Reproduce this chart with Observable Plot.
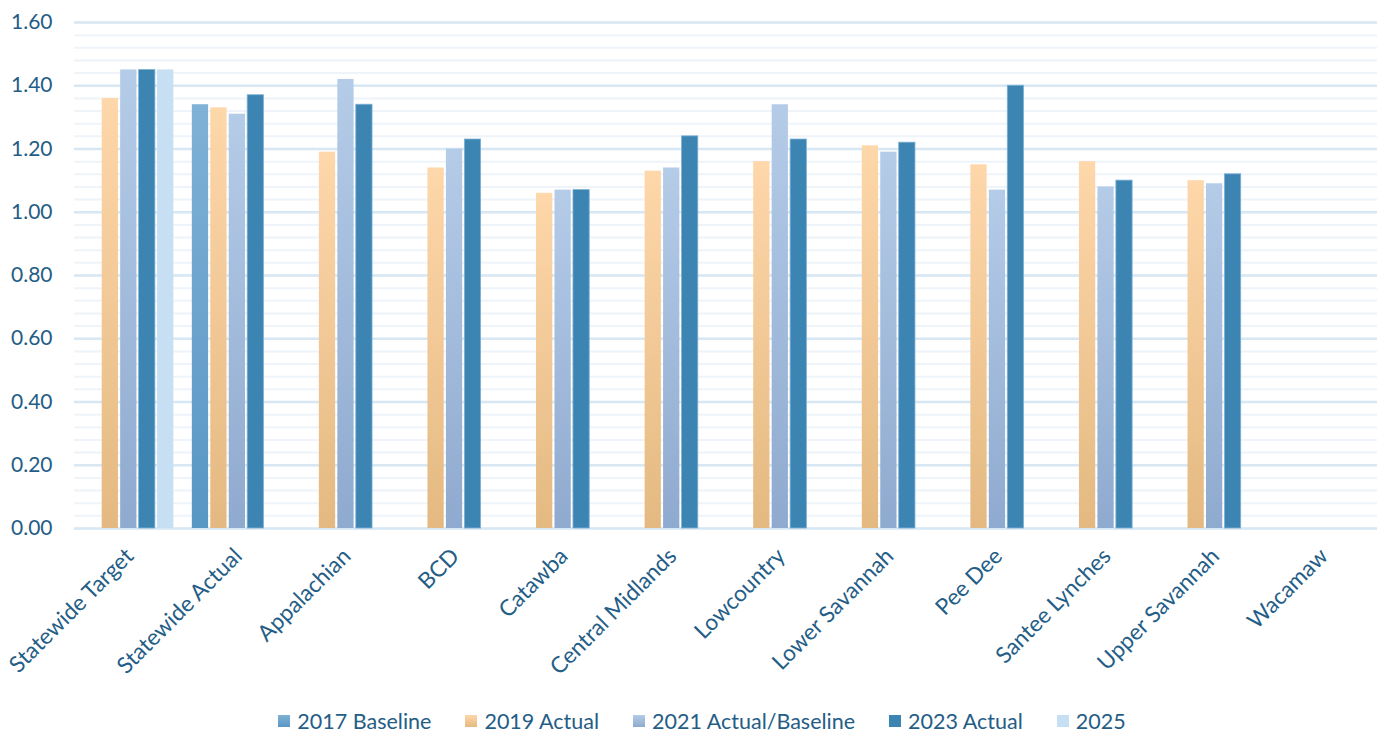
<!DOCTYPE html>
<html>
<head>
<meta charset="utf-8">
<script src="https://cdn.jsdelivr.net/npm/d3@7"></script>
<script src="https://cdn.jsdelivr.net/npm/@observablehq/plot@0.6"></script>
<style>
  html, body { margin: 0; padding: 0; background: #fff; }
  #chart { width: 1390px; }
  #legend { display: flex; justify-content: center; align-items: center; gap: 34px;
    font-family: Lato, "Open Sans", sans-serif; font-size: 21.5px; color: #245d86; height: 26px; padding-top: 2px; padding-left: 14px; }
  #legend .item { display: flex; align-items: center; }
  #legend .sw { width: 12px; height: 12px; margin-right: 7px; display: inline-block; }
</style>
</head>
<body>
<div id="chart"></div>
<div id="legend"></div>
<script>
const categories = ["Statewide Target", "Statewide Actual", "Appalachian", "BCD", "Catawba", "Central Midlands", "Lowcountry", "Lower Savannah", "Pee Dee", "Santee Lynches", "Upper Savannah", "Wacamaw"];
const series = ["2017 Baseline", "2019 Actual", "2021 Actual/Baseline", "2023 Actual", "2025"];
const v2017 = [null, 1.34, null, null, null, null, null, null, null, null, null, null];
const v2019 = [1.36, 1.33, 1.19, 1.14, 1.06, 1.13, 1.16, 1.21, 1.15, 1.16, 1.10, null];
const v2021 = [1.45, 1.31, 1.42, 1.20, 1.07, 1.14, 1.34, 1.19, 1.07, 1.08, 1.09, null];
const v2023 = [1.45, 1.37, 1.34, 1.23, 1.07, 1.24, 1.23, 1.22, 1.40, 1.10, 1.12, null];
const v2025 = [1.45, null, null, null, null, null, null, null, null, null, null, null];
const yTicks = [0, 0.2, 0.4, 0.6, 0.8, 1.0, 1.2, 1.4, 1.6];

const seriesValues = [v2017, v2019, v2021, v2023, v2025];
const gradients = [
  {id: "g2017", top: "#80b1d6", bottom: "#5896c4"},
  {id: "g2019", top: "#fed7aa", bottom: "#e4b981"},
  {id: "g2021", top: "#b5cce8", bottom: "#8faacf"},
  {id: "g2023", top: "#3c85b3", bottom: "#3c85b3"},
  {id: "g2025", top: "#c7dff2", bottom: "#c7dff2"}
];

const W = 1390, H = 706;
const marginLeft = 74, marginRight = 13, marginTop = 22, marginBottom = 178;
const pInner = 0.15, pOuter = 0.075;
const step = (W - marginLeft - marginRight) / (categories.length - pInner + 2 * pOuter);
const bandwidth = step * (1 - pInner);
const slot = bandwidth / series.length;
const gap = 2.2;

const minorTicks = d3.range(0, 1.6001, 0.04).map(v => +v.toFixed(2));

const barMarks = series.map((s, i) => {
  const rows = categories.map((c, j) => ({category: c, series: s, value: seriesValues[i][j]})).filter(d => d.value != null);
  return Plot.barY(rows, {
    x: "category", y: "value",
    fill: `url(#${gradients[i].id})`,
    stroke: i === 3 ? "#7fb0d4" : "none",
    strokeWidth: i === 3 ? 0.8 : 0,
    insetLeft: i * slot + gap / 2,
    insetRight: (series.length - 1 - i) * slot + gap / 2
  });
});

const chart = Plot.plot({
  width: W, height: H,
  marginLeft, marginRight, marginTop, marginBottom,
  style: {fontFamily: "Lato, 'Open Sans', sans-serif", color: "#245d86", background: "#fff"},
  x: {domain: categories, paddingInner: pInner, paddingOuter: pOuter, round: false, label: null},
  y: {domain: [0, 1.6], label: null},
  marks: [
    Plot.ruleY(minorTicks, {stroke: "#eef4fa", strokeWidth: 2}),
    Plot.ruleY(yTicks, {stroke: "#d7e7f3", strokeWidth: 2.5}),
    ...barMarks,
    Plot.axisY(yTicks, {tickSize: 0, tickPadding: 22, tickFormat: d => d.toFixed(2), fontSize: 21, label: null, fill: "#245d86"}),
    Plot.axisX({tickSize: 0, tickRotate: -45, tickPadding: 24, fontSize: 22.5, label: null, fill: "#245d86", dx: 1})
  ]
});

const ns = "http://www.w3.org/2000/svg";
const defs = document.createElementNS(ns, "defs");
for (const g of gradients) {
  const lg = document.createElementNS(ns, "linearGradient");
  lg.setAttribute("id", g.id);
  lg.setAttribute("x1", "0"); lg.setAttribute("y1", "0");
  lg.setAttribute("x2", "0"); lg.setAttribute("y2", "1");
  for (const [off, col] of [["0", g.top], ["1", g.bottom]]) {
    const st = document.createElementNS(ns, "stop");
    st.setAttribute("offset", off);
    st.setAttribute("stop-color", col);
    lg.appendChild(st);
  }
  defs.appendChild(lg);
}
chart.insertBefore(defs, chart.firstChild);
document.getElementById("chart").appendChild(chart);

const legend = document.getElementById("legend");
series.forEach((s, i) => {
  const item = document.createElement("div");
  item.className = "item";
  const sw = document.createElement("span");
  sw.className = "sw";
  sw.style.background = `linear-gradient(${gradients[i].top}, ${gradients[i].bottom})`;
  const t = document.createElement("span");
  t.textContent = s;
  item.appendChild(sw); item.appendChild(t);
  legend.appendChild(item);
});
</script>
</body>
</html>
